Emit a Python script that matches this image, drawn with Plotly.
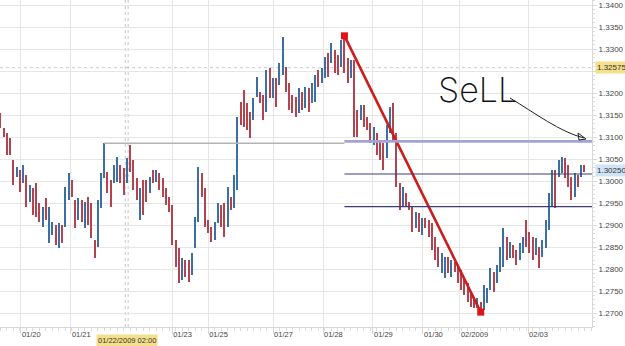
import plotly.graph_objects as go

# ---- data ----
highs = [1.3154, 1.3120, 1.3109, 1.3097, 1.3047, 1.3031, 1.3025, 1.3036, 1.3013, 1.2991,
         1.2984, 1.2995, 1.2950, 1.2941, 1.2961, 1.2941, 1.2907, 1.2900, 1.2904, 1.2900,
         1.2986, 1.3018, 1.3002, 1.2956, 1.2961, 1.2956, 1.2952, 1.2963, 1.2950, 1.2866,
         1.2956, 1.3018, 1.3086, 1.3020, 1.3002, 1.3036, 1.3054, 1.3036, 1.3029, 1.3052,
         1.3081, 1.3047, 1.3006, 1.2984, 1.3002, 1.3002, 1.3009, 1.3025, 1.3025, 1.3018,
         1.3006, 1.2984, 1.2963, 1.2945, 1.2866, 1.2847, 1.2825, 1.2820, 1.2820, 1.2836,
         1.2918, 1.3031, 1.3018, 1.2984, 1.2911, 1.2895, 1.2907, 1.2950, 1.2945, 1.2950,
         1.2986, 1.2963, 1.3013, 1.3145, 1.3179, 1.3206, 1.3177, 1.3156, 1.3188, 1.3236,
         1.3202, 1.3195, 1.3252, 1.3256, 1.3234, 1.3234, 1.3268, 1.3327, 1.3259, 1.3222,
         1.3195, 1.3191, 1.3211, 1.3202, 1.3213, 1.3211, 1.3222, 1.3241, 1.3252, 1.3256,
         1.3281, 1.3291, 1.3313, 1.3297, 1.3286, 1.3320, 1.3330, 1.3279, 1.3275, 1.3275,
         1.3161, 1.3172, 1.3172, 1.3145, 1.3131, 1.3122, 1.3109, 1.3088, 1.3086, 1.3127,
         1.3168, 1.3177, 1.3109, 1.2995, 1.2986, 1.2972, 1.2952, 1.2941, 1.2929, 1.2927,
         1.2916, 1.2916, 1.2911, 1.2904, 1.2872, 1.2850, 1.2836, 1.2827, 1.2827, 1.2820,
         1.2816, 1.2809, 1.2797, 1.2779, 1.2768, 1.2747, 1.2736, 1.2734, 1.2725, 1.2763,
         1.2757, 1.2802, 1.2793, 1.2809, 1.2850, 1.2893, 1.2872, 1.2861, 1.2854, 1.2843,
         1.2859, 1.2872, 1.2911, 1.2884, 1.2872, 1.2870, 1.2850, 1.2866, 1.2911, 1.2972,
         1.3025, 1.3025, 1.3047, 1.3054, 1.3052, 1.3036, 1.3009, 1.3018, 1.3013, 1.3036,
         1.3036]
lows = [1.3120, 1.3100, 1.3059, 1.3059, 1.2991, 1.3009, 1.2975, 1.2995, 1.2941, 1.2952,
        1.2922, 1.2918, 1.2907, 1.2895, 1.2911, 1.2859, 1.2877, 1.2854, 1.2847, 1.2859,
        1.2895, 1.2956, 1.2963, 1.2893, 1.2911, 1.2907, 1.2893, 1.2900, 1.2870, 1.2825,
        1.2850, 1.2938, 1.3006, 1.2972, 1.2941, 1.2995, 1.2997, 1.2995, 1.2968, 1.2995,
        1.3020, 1.2979, 1.2956, 1.2911, 1.2922, 1.2952, 1.2972, 1.2995, 1.2997, 1.2979,
        1.2963, 1.2945, 1.2929, 1.2854, 1.2804, 1.2768, 1.2775, 1.2782, 1.2770, 1.2786,
        1.2847, 1.2907, 1.2963, 1.2895, 1.2881, 1.2861, 1.2866, 1.2904, 1.2895, 1.2872,
        1.2895, 1.2934, 1.2938, 1.2979, 1.3127, 1.3122, 1.3116, 1.3097, 1.3138, 1.3191,
        1.3177, 1.3138, 1.3156, 1.3188, 1.3188, 1.3168, 1.3218, 1.3241, 1.3202, 1.3161,
        1.3154, 1.3145, 1.3154, 1.3161, 1.3166, 1.3156, 1.3177, 1.3179, 1.3213, 1.3222,
        1.3234, 1.3236, 1.3268, 1.3245, 1.3241, 1.3259, 1.3245, 1.3222, 1.3234, 1.3100,
        1.3100, 1.3138, 1.3122, 1.3116, 1.3086, 1.3081, 1.3059, 1.3047, 1.3025, 1.3052,
        1.3109, 1.3093, 1.2986, 1.2934, 1.2941, 1.2941, 1.2934, 1.2884, 1.2893, 1.2884,
        1.2877, 1.2893, 1.2872, 1.2843, 1.2820, 1.2804, 1.2791, 1.2779, 1.2791, 1.2782,
        1.2793, 1.2768, 1.2752, 1.2741, 1.2725, 1.2713, 1.2711, 1.2711, 1.2702, 1.2707,
        1.2722, 1.2752, 1.2747, 1.2768, 1.2793, 1.2804, 1.2820, 1.2825, 1.2825, 1.2809,
        1.2820, 1.2836, 1.2850, 1.2836, 1.2820, 1.2832, 1.2802, 1.2827, 1.2847, 1.2888,
        1.2941, 1.2938, 1.3009, 1.3018, 1.3006, 1.2986, 1.2956, 1.2963, 1.2986, 1.3009,
        1.3020]
directions = list(
    "dddddududu" "ddduduudud" "uuddududdd" "uuudduuddu" "ddduddudud"
    "dddddduddu" "uudddduudd" "uduudddduu" "ddududuudd" "ddududuudu"
    "ududduddud" "dudddudddu" "udddudddud" "uddddduudu" "dddddddudu"
    "uuduuududd" "uuddduduuu" "uduudddudu" "d")

date_ticks = [6.3, 21.7, 52.9, 64.0, 84.0, 99.4, 114.8, 130.2, 141.6, 162.6]
date_labels = ["01/20", "01/21", "01/23", "01/25", "01/27", "01/28", "01/29",
               "01/30", "02/2009", "02/03"]
price_ticks = [1.27, 1.275, 1.28, 1.285, 1.29, 1.295, 1.30, 1.305, 1.31,
               1.315, 1.32, 1.325, 1.33, 1.335, 1.34]
price_labels = ["1.2700", "1.2750", "1.2800", "1.2850", "1.2900", "1.2950", "1.3000",
                "1.3050", "1.3100", "1.3150", "1.3200", "", "1.3300", "1.3350", "1.3400"]

cross_x = 38.9
cross_label = "01/22/2009 02:00"
cross_price = 1.32575
last_price = 1.3025
fib_levels = [0.382, 0.5, 0.618]
resistance_bar = 32
note_text = "SeLL"

X_RANGE = [-0.15, 182.3]
Y_RANGE = [1.26682, 1.34114]

RED = "#b4434f"
BLUE = "#3c6fa4"

n = len(highs)
up = [i for i in range(n) if directions[i] == "u"]
dn = [i for i in range(n) if directions[i] == "d"]

fig = go.Figure()
for idx, col in ((up, BLUE), (dn, RED)):
    fig.add_trace(go.Bar(
        x=idx,
        y=[highs[i] - lows[i] for i in idx],
        base=[lows[i] for i in idx],
        width=0.36,
        marker=dict(color=col, line=dict(width=0)),
        showlegend=False, hoverinfo="skip"))

hi_i = max(range(n), key=lambda i: highs[i])
lo_i = min(range(n), key=lambda i: lows[i])
swing_hi, swing_lo = highs[hi_i], lows[lo_i]

shapes = []
# crosshair
for dx in (-0.45, 0.45):
    shapes.append(dict(type="line", xref="x", yref="paper", x0=cross_x + dx, x1=cross_x + dx,
                       y0=0, y1=1, line=dict(color="#c8c8c8", width=1, dash="dot"), layer="below"))
shapes.append(dict(type="line", xref="paper", yref="y", x0=0, x1=1, y0=cross_price, y1=cross_price,
                   line=dict(color="#c8c8c8", width=1, dash="dot"), layer="below"))
# resistance line
shapes.append(dict(type="line", xref="x", yref="y", x0=resistance_bar, x1=hi_i,
                   y0=highs[resistance_bar], y1=highs[resistance_bar],
                   line=dict(color="#b4b4b4", width=1.5)))
# fibonacci levels
for lv in fib_levels:
    yv = swing_lo + lv * (swing_hi - swing_lo)
    if lv == 0.618:
        ln = dict(color="#a3a3d4", width=2.6)
    else:
        ln = dict(color="#3c3c7c", width=1.1)
    shapes.append(dict(type="line", xref="x", yref="y", x0=hi_i, x1=X_RANGE[1],
                       y0=yv, y1=yv, line=ln))
# handwritten arrow
shapes.append(dict(type="path", xref="paper", yref="paper",
                   path="M 0.8615 0.7003 C 0.9037 0.6544 0.9459 0.5963 0.9865 0.5780",
                   line=dict(color="#222", width=1)))
shapes.append(dict(type="path", xref="paper", yref="paper",
                   path="M 0.9899 0.5749 L 0.9764 0.5933 L 0.9780 0.5719 Z",
                   line=dict(color="#222", width=1)))

# red trend line with endpoints
fig.add_trace(go.Scatter(x=[hi_i, lo_i], y=[swing_hi, swing_lo], mode="lines+markers",
                         line=dict(color="#cc1c1c", width=2.6),
                         marker=dict(symbol="square", size=7, color="#e01414"),
                         showlegend=False, hoverinfo="skip"))

annotations = [
    dict(text=cross_label, x=cross_x, xref="x", y=0, yref="paper", yanchor="top",
         yshift=-7, showarrow=False, bgcolor="#f4e08a",
         font=dict(size=7.5, color="#333", family="Liberation Sans"), borderpad=1),
    dict(text=f"{cross_price:.5f}", x=1, xref="paper", xanchor="left", xshift=3,
         y=cross_price, yref="y", showarrow=False, bgcolor="#f4e08a",
         font=dict(size=8, color="#333", family="Liberation Sans"), borderpad=1),
    dict(text=f"{last_price:.5f}", x=1, xref="paper", xanchor="left", xshift=3,
         y=last_price, yref="y", showarrow=False, bgcolor="#cfe4f6",
         font=dict(size=8, color="#333", family="Liberation Sans"), borderpad=1),
    dict(text=note_text, x=0.8074, y=0.725, xref="paper", yref="paper", showarrow=False,
         xanchor="center", yanchor="middle",
         font=dict(size=34, color="#111", family="Inter", weight=200)),
]

fig.update_layout(
    width=625, height=346,
    margin=dict(l=0, r=33, t=0, b=19),
    paper_bgcolor="white", plot_bgcolor="white",
    barmode="overlay", bargap=0,
    shapes=shapes, annotations=annotations,
    font=dict(family="Liberation Sans", size=8, color="#444"),
    xaxis=dict(range=X_RANGE, tickmode="array", tickvals=date_ticks, ticktext=date_labels,
               ticklabelposition="outside right", showgrid=True, gridcolor="#e6e6e6",
               ticks="outside", ticklen=6, tickcolor="#d8d8d8", showline=True,
               linecolor="#d8d8d8", zeroline=False, tickfont=dict(size=7.5, color="#444"),
               minor=dict(tickmode="linear", tick0=0, dtick=2, ticks="outside", ticklen=3,
                          tickcolor="#dddddd", showgrid=False)),
    yaxis=dict(range=Y_RANGE, side="right", tickmode="array", tickvals=price_ticks,
               ticktext=price_labels, showgrid=True, gridcolor="#e6e6e6",
               ticks="outside", ticklen=4, tickcolor="#d8d8d8", showline=True,
               linecolor="#d8d8d8", zeroline=False, tickfont=dict(size=8, color="#444"),
               minor=dict(tickmode="linear", tick0=1.27, dtick=0.001, ticks="outside",
                          ticklen=2, tickcolor="#dddddd", showgrid=False)),
)

fig.write_html("out.html")
